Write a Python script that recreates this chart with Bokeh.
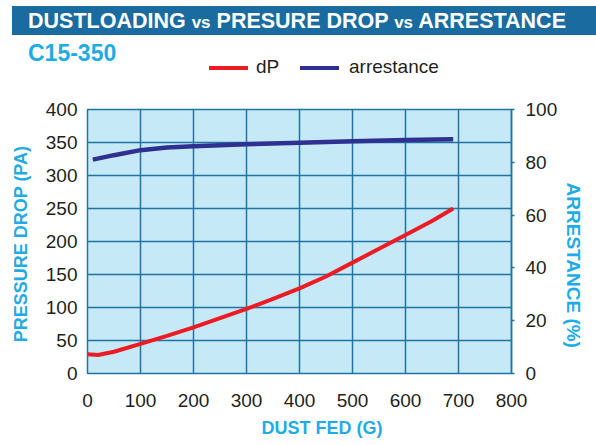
from bokeh.plotting import figure
from bokeh.layouts import column
from bokeh.models import Range1d, LinearAxis, FixedTicker, Div
from bokeh.embed import file_html
from bokeh.resources import INLINE

# ---- data ----
dust_fed_dp = [0, 20, 50, 100, 150, 200, 250, 300, 350, 400, 450, 500, 550, 600, 650, 690]
pressure_drop = [29, 28, 33, 45, 57, 70, 84, 98, 113, 129, 147, 168, 189, 210, 231, 250]

dust_fed_arr = [10, 50, 100, 150, 200, 300, 400, 500, 600, 690]
arrestance = [81.0, 82.7, 84.6, 85.6, 86.1, 86.8, 87.4, 88.0, 88.4, 88.7]

x_ticks = [0, 100, 200, 300, 400, 500, 600, 700, 800]
y_ticks = [0, 50, 100, 150, 200, 250, 300, 350, 400]
arr_ticks = [0, 20, 40, 60, 80, 100]

title_parts = ["DUSTLOADING", "vs", "PRESURE DROP", "vs", "ARRESTANCE"]
subtitle = "C15-350"
series_names = ["dP", "arrestance"]
x_title = "DUST FED (G)"
y_title = "PRESSURE  DROP (PA)"
y2_title = "ARRESTANCE (%)"

GRID = "#1f74a2"
BG = "#c6e9f8"
CYAN = "#1fabe6"
TXT = "#231f20"
BAR = "#1a6b9f"
RED = "#ed1c24"
NAVY = "#2e3192"
FONT = "Liberation Sans"
NBSP = "\u00a0"

W, H = 596, 445
HDR_H = 82

# ---------------- header (HTML): title bar, subtitle, legend ----------------
big = "font-size:21.5px;"
small = "font-size:17px;"
header_html = (
    f'<div style="position:relative;width:{W}px;height:{HDR_H}px;overflow:hidden;'
    f'font-family:\'{FONT}\';">'
    f'<div style="position:absolute;left:12px;top:6px;width:584px;height:29px;'
    f'background:{BAR};"></div>'
    f'<div style="position:absolute;left:28px;top:11px;line-height:1;white-space:nowrap;'
    f'font-weight:bold;color:white;{big}">'
    f'{title_parts[0]} <span style="{small}">{title_parts[1]}</span> {title_parts[2]} '
    f'<span style="{small}">{title_parts[3]}</span> {title_parts[4]}</div>'
    f'<div style="position:absolute;left:28px;top:42px;line-height:1;white-space:nowrap;'
    f'font-weight:bold;color:{CYAN};font-size:23px;">{subtitle}</div>'
    f'<div style="position:absolute;left:209px;top:66px;width:39px;height:4px;'
    f'background:{RED};"></div>'
    f'<div style="position:absolute;left:256px;top:57px;line-height:1;white-space:nowrap;'
    f'color:{TXT};font-size:19px;">{series_names[0]}</div>'
    f'<div style="position:absolute;left:300px;top:66px;width:39px;height:4px;'
    f'background:{NAVY};"></div>'
    f'<div style="position:absolute;left:349px;top:57px;line-height:1;white-space:nowrap;'
    f'color:{TXT};font-size:19px;">{series_names[1]}</div>'
    f'</div>'
)
header = Div(text=header_html, width=W, height=HDR_H, margin=0)

# ---------------- main chart ----------------
p = figure(width=W, height=H - HDR_H, x_range=Range1d(0, 800), y_range=Range1d(0, 400),
           output_backend="svg", toolbar_location=None,
           min_border_left=87, min_border_right=85, min_border_top=109 - HDR_H,
           min_border_bottom=72)
p.extra_y_ranges = {"arr": Range1d(0, 100)}

p.background_fill_color = BG
p.border_fill_color = "white"
p.outline_line_color = GRID
p.outline_line_width = 1.5

p.xaxis.ticker = FixedTicker(ticks=x_ticks)
p.yaxis.ticker = FixedTicker(ticks=y_ticks)
for ax in (p.xaxis[0], p.yaxis[0]):
    ax.axis_line_color = None
    ax.major_tick_line_color = None
    ax.major_tick_out = 0
    ax.major_tick_in = 0
    ax.minor_tick_line_color = None
    ax.minor_tick_out = 0
    ax.major_label_text_font = FONT
    ax.major_label_text_font_size = "19px"
    ax.major_label_text_color = TXT
    ax.axis_label_text_font = FONT
    ax.axis_label_text_font_style = "bold"
    ax.axis_label_text_color = CYAN
p.xaxis.major_label_standoff = 20
p.yaxis.major_label_standoff = 10
# leading non-breaking spaces shift the label to the right, as in the reference
p.xaxis.axis_label = NBSP * 9 + x_title
p.xaxis.axis_label_standoff = 8
p.xaxis.axis_label_text_font_size = "18px"
p.yaxis.axis_label = y_title
p.yaxis.axis_label_standoff = 12
p.yaxis.axis_label_text_font_size = "18px"

rax = LinearAxis(y_range_name="arr", ticker=FixedTicker(ticks=arr_ticks))
rax.axis_line_color = GRID
rax.axis_line_width = 1.5
rax.major_tick_line_color = GRID
rax.major_tick_line_width = 1.5
rax.major_tick_out = 3
rax.major_tick_in = 0
rax.minor_tick_line_color = None
rax.minor_tick_out = 0
rax.major_label_text_font = FONT
rax.major_label_text_font_size = "19px"
rax.major_label_text_color = TXT
rax.major_label_standoff = 11
# leading non-breaking spaces move the visible label text down, as in the reference
rax.axis_label = NBSP * 9 + y2_title
rax.axis_label_standoff = 3
rax.axis_label_text_font = FONT
rax.axis_label_text_font_size = "19px"
rax.axis_label_text_font_style = "bold"
rax.axis_label_text_color = CYAN
p.add_layout(rax, "right")

p.xgrid.ticker = FixedTicker(ticks=x_ticks)
p.ygrid.ticker = FixedTicker(ticks=y_ticks)
for g in (p.xgrid[0], p.ygrid[0]):
    g.grid_line_color = GRID
    g.grid_line_width = 1.5

p.line(dust_fed_dp, pressure_drop, line_color=RED, line_width=4)
p.line(dust_fed_arr, arrestance, y_range_name="arr", line_color=NAVY, line_width=4.5)

layout = column(header, p, spacing=0)
open("out.html", "w").write(file_html(layout, INLINE))
